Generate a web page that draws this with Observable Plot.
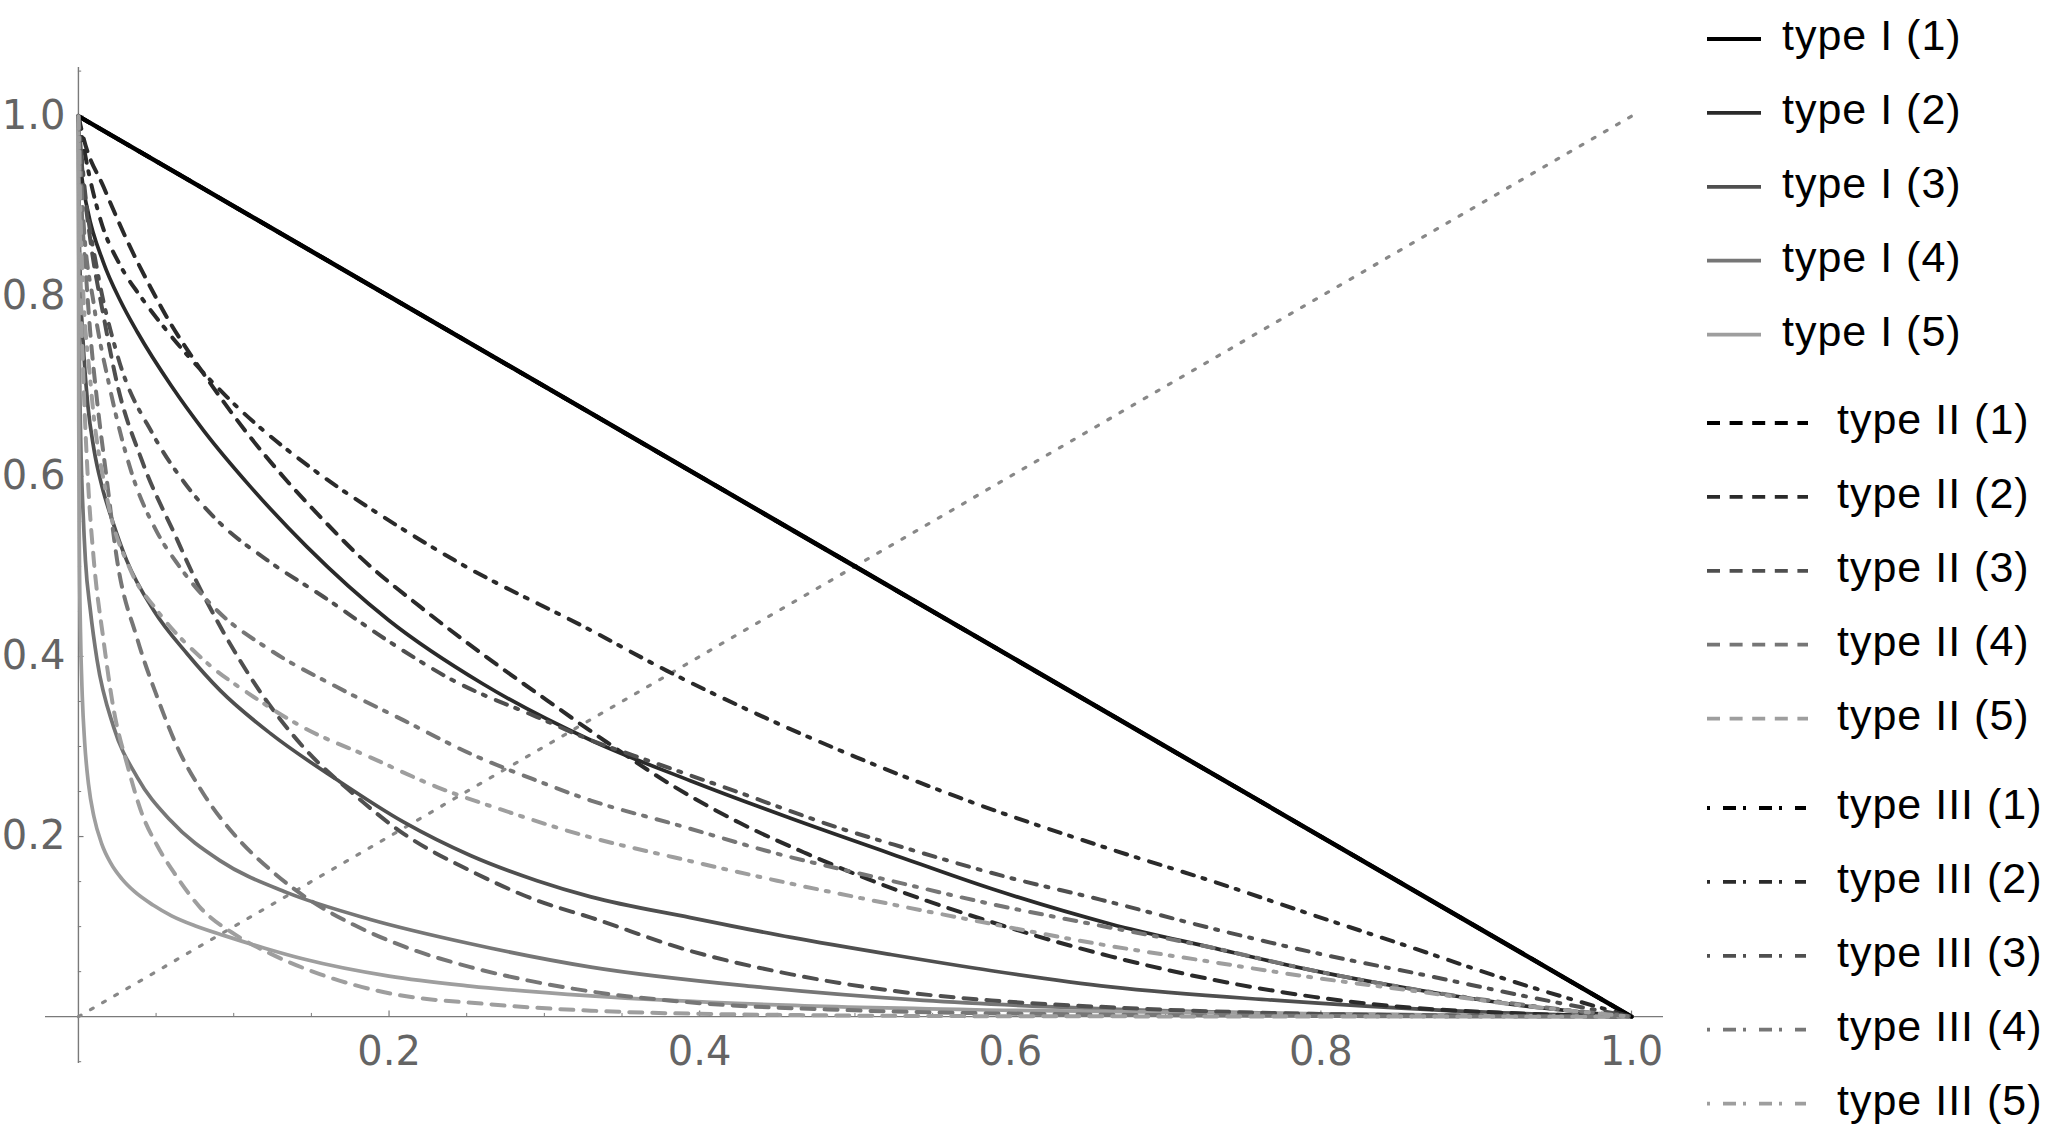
<!DOCTYPE html>
<html><head><meta charset="utf-8">
<script src="https://cdn.jsdelivr.net/npm/d3@7"></script>
<script src="https://cdn.jsdelivr.net/npm/@observablehq/plot@0.6"></script>
<style>
body{margin:0;background:#fff;}
#wrap{position:relative;width:2057px;height:1140px;overflow:hidden;background:#fff;}
#chart{position:absolute;left:0;top:0;}
#legend{position:absolute;left:1680px;top:0;}
</style></head><body>
<div id="wrap"><div id="chart"></div><svg id="legend" width="377" height="1140"></svg></div>
<script>
// ---- data (x, y) ----
const diagonal = [[0,0],[1,1]];
const typeI_1 = [[0,1],[1,0]];
const typeI_2 = [[0,1],[0.0005,0.965],[0.002,0.935],[0.006,0.895],[0.016,0.838],[0.027,0.795],[0.038,0.76],[0.06,0.7],[0.081,0.65],[0.11,0.59],[0.147,0.522],[0.2,0.44],[0.26,0.37],[0.33,0.307],[0.394,0.262],[0.459,0.22],[0.523,0.181],[0.588,0.142],[0.6645,0.103],[0.729,0.077],[0.793,0.052],[0.858,0.031],[0.922,0.014],[1,0]];
const typeI_3 = [[0,1],[0.0003,0.9],[0.001,0.83],[0.003,0.75],[0.006,0.68],[0.01,0.63],[0.015,0.59],[0.022,0.55],[0.031,0.507],[0.0485,0.451],[0.07,0.403],[0.0914,0.362],[0.124,0.314],[0.1665,0.263],[0.2095,0.216],[0.2524,0.179],[0.2953,0.151],[0.33,0.133],[0.394,0.11],[0.459,0.088],[0.523,0.069],[0.588,0.051],[0.6645,0.033],[0.772,0.018],[0.879,0.007],[1,0]];
const typeI_4 = [[0,1],[0.0001,0.9],[0.0005,0.76],[0.0015,0.64],[0.003,0.56],[0.0045,0.507],[0.0077,0.451],[0.012,0.396],[0.0228,0.321],[0.0378,0.266],[0.0592,0.218],[0.0914,0.173],[0.134,0.138],[0.188,0.108],[0.2524,0.081],[0.33,0.055],[0.437,0.033],[0.544,0.018],[0.6645,0.0085],[0.8,0.003],[1,0]];
const typeI_5 = [[0,1],[0.00005,0.85],[0.0002,0.66],[0.0006,0.52],[0.0013,0.43],[0.0025,0.355],[0.004,0.305],[0.0065,0.258],[0.01,0.222],[0.015,0.192],[0.021,0.17],[0.028,0.153],[0.036,0.139],[0.048,0.124],[0.06,0.112],[0.075,0.101],[0.094,0.09],[0.12,0.076],[0.145,0.064],[0.2,0.045],[0.252,0.034],[0.33,0.023],[0.45,0.013],[0.6,0.007],[0.8,0.003],[1,0]];
const typeII_1 = [[0,1],[1,0]];
const typeII_2 = [[0,1],[0.0034,0.975],[0.0163,0.921],[0.0313,0.862],[0.0464,0.81],[0.0592,0.77],[0.0742,0.73],[0.0871,0.698],[0.1086,0.648],[0.1322,0.599],[0.158,0.551],[0.1816,0.51],[0.2202,0.455],[0.263,0.399],[0.306,0.346],[0.34,0.305],[0.383,0.256],[0.426,0.215],[0.469,0.181],[0.508,0.153],[0.544,0.13],[0.588,0.105],[0.63,0.083],[0.6645,0.067],[0.7395,0.038],[0.7954,0.022],[0.851,0.011],[0.922,0.004],[1,0]];
const typeII_3 = [[0,1],[0.003,0.93],[0.0077,0.862],[0.0163,0.777],[0.0249,0.703],[0.041,0.617],[0.0635,0.53],[0.07,0.505],[0.0914,0.433],[0.115,0.366],[0.145,0.299],[0.1773,0.247],[0.2095,0.203],[0.2524,0.162],[0.2953,0.129],[0.33,0.11],[0.394,0.073],[0.459,0.047],[0.523,0.029],[0.588,0.018],[0.6645,0.0104],[0.8,0.003],[1,0]];
const typeII_4 = [[0,1],[0.002,0.9],[0.0045,0.833],[0.0077,0.758],[0.012,0.684],[0.018,0.6],[0.0249,0.507],[0.0378,0.42],[0.0507,0.355],[0.0635,0.3],[0.0807,0.247],[0.102,0.199],[0.1236,0.163],[0.1494,0.129],[0.1773,0.102],[0.2095,0.078],[0.2524,0.055],[0.29,0.04],[0.33,0.028],[0.4,0.015],[0.5,0.007],[0.65,0.0025],[0.8,0.0008],[1,0]];
const typeII_5 = [[0,1],[0.001,0.85],[0.003,0.72],[0.006,0.6],[0.0099,0.507],[0.016,0.42],[0.0228,0.34],[0.0314,0.28],[0.041,0.225],[0.0507,0.19],[0.0635,0.155],[0.078,0.122],[0.102,0.09],[0.1236,0.07],[0.1558,0.047],[0.2,0.026],[0.263,0.014],[0.33,0.0067],[0.45,0.002],[0.6,0.0005],[1,0]];
const typeIII_1 = [[0,1],[1,0]];
const typeIII_2 = [[0,1],[0.004,0.96],[0.0142,0.885],[0.027,0.834],[0.0399,0.8],[0.0549,0.766],[0.0957,0.688],[0.158,0.599],[0.1945,0.557],[0.242,0.507],[0.33,0.429],[0.379,0.384],[0.437,0.336],[0.501,0.288],[0.566,0.244],[0.6645,0.186],[0.729,0.151],[0.793,0.114],[0.858,0.077],[0.922,0.04],[1,0]];
const typeIII_3 = [[0,1],[0.004,0.92],[0.012,0.83],[0.025,0.735],[0.0485,0.645],[0.0678,0.594],[0.09,0.55],[0.1215,0.507],[0.158,0.466],[0.1987,0.418],[0.2417,0.373],[0.295,0.333],[0.33,0.307],[0.3576,0.29],[0.422,0.251],[0.489,0.21],[0.531,0.188],[0.598,0.155],[0.658,0.13],[0.7354,0.0956],[0.7997,0.0696],[0.8684,0.0456],[0.935,0.0215],[1,0]];
const typeIII_4 = [[0,1],[0.003,0.89],[0.01,0.79],[0.02,0.7],[0.035,0.6],[0.05,0.54],[0.065,0.5],[0.0893,0.451],[0.1236,0.407],[0.1665,0.366],[0.2095,0.329],[0.2524,0.292],[0.2953,0.262],[0.33,0.24],[0.3833,0.214],[0.4499,0.181],[0.523,0.151],[0.588,0.125],[0.6582,0.101],[0.729,0.077],[0.793,0.052],[0.858,0.031],[0.922,0.015],[1,0]];
const typeIII_5 = [[0,1],[0.002,0.85],[0.008,0.7],[0.018,0.58],[0.0335,0.496],[0.0507,0.451],[0.0807,0.396],[0.1129,0.355],[0.145,0.321],[0.188,0.288],[0.2309,0.255],[0.2739,0.229],[0.33,0.199],[0.3833,0.177],[0.4499,0.151],[0.523,0.125],[0.588,0.103],[0.6558,0.081],[0.729,0.061],[0.793,0.044],[0.858,0.029],[0.922,0.014],[1,0]];

const typeNames = ["type I", "type II", "type III"];
const levels = [1, 2, 3, 4, 5];
const xMajor = [0.2, 0.4, 0.6, 0.8, 1.0];
const yMajor = [0.2, 0.4, 0.6, 0.8, 1.0];
const xMinor = [0.05,0.1,0.15,0.25,0.3,0.35,0.45,0.5,0.55,0.65,0.7,0.75,0.85,0.9,0.95];
const yMinor = [-0.05,0.05,0.1,0.15,0.25,0.3,0.35,0.45,0.5,0.55,0.65,0.7,0.75,0.85,0.9,0.95,1.05];

// ---- styling ----
const grays = ["#000000", "#2a2a2a", "#4f4f4f", "#767676", "#9e9e9e"];
const dashes = [null, "13,10", "12,9,3,11"];
const legendDashes = [null, "13,9.6", "3,13,13,7"];
const seriesData = [
  [typeI_1, typeI_2, typeI_3, typeI_4, typeI_5],
  [typeII_1, typeII_2, typeII_3, typeII_4, typeII_5],
  [typeIII_1, typeIII_2, typeIII_3, typeIII_4, typeIII_5]
];

const lineMarks = [];
seriesData.forEach((group, t) => {
  group.forEach((data, k) => {
    lineMarks.push(Plot.line(data, {
      x: d => d[0], y: d => d[1],
      stroke: grays[k],
      strokeWidth: (t === 0 && k === 0) ? 4.6 : (t === 0 ? 3.7 : 4),
      strokeDasharray: dashes[t],
      curve: "monotone-x"
    }));
  });
});

const fmt = d3.format(".1f");
const axisColor = "#7a7a7a";
const labelColor = "#646464";

const chart = Plot.plot({
  width: 1680, height: 1140,
  marginLeft: 45, marginRight: 17, marginTop: 67, marginBottom: 77,
  x: {domain: [-0.0212, 1.0206], axis: null},
  y: {domain: [-0.052, 1.054], axis: null},
  style: {background: "#fff"},
  marks: [
    Plot.ruleY([0], {stroke: axisColor, strokeWidth: 1.4}),
    Plot.ruleX([0], {stroke: axisColor, strokeWidth: 1.4}),
    Plot.ruleX(xMajor, {x: d => d, y1: 0, y2: 0.0062, stroke: axisColor, strokeWidth: 1.2}),
    Plot.ruleX(xMinor, {x: d => d, y1: 0, y2: 0.0036, stroke: axisColor, strokeWidth: 1}),
    Plot.ruleY(yMajor, {y: d => d, x1: 0, x2: 0.0036, stroke: axisColor, strokeWidth: 1.2}),
    Plot.ruleY(yMinor, {y: d => d, x1: 0, x2: 0.0021, stroke: axisColor, strokeWidth: 1}),
    Plot.text(xMajor, {x: d => d, y: 0, text: d => fmt(d), dy: 36, fontSize: 40, fontFamily: "DejaVu Sans", fill: labelColor}),
    Plot.text(yMajor, {x: 0, y: d => d, text: d => fmt(d), dx: -13, textAnchor: "end", fontSize: 40, fontFamily: "DejaVu Sans", fill: labelColor}),
    Plot.line(diagonal, {x: d => d[0], y: d => d[1], stroke: "#888", strokeWidth: 3.2, strokeDasharray: "3,11"}),
    ...lineMarks
  ]
});
document.getElementById("chart").appendChild(chart);

// ---- legend ----
const leg = d3.select("#legend");
const groupTop = [39, 423, 808];
const rowStep = 73.9;
const lineEnd = [81, 128, 126];
const textX = [102, 157, 157];
typeNames.forEach((name, t) => {
  levels.forEach((lv, k) => {
    const yy = groupTop[t] + k * rowStep;
    leg.append("line")
      .attr("x1", 27).attr("x2", lineEnd[t])
      .attr("y1", yy).attr("y2", yy)
      .attr("stroke", grays[k]).attr("stroke-width", 3.8)
      .attr("stroke-dasharray", legendDashes[t]);
    leg.append("text")
      .attr("x", textX[t]).attr("y", yy + 11)
      .attr("font-family", "Liberation Sans, Arial, sans-serif")
      .attr("font-size", 43)
      .attr("letter-spacing", "1px")
      .attr("fill", "#000")
      .text(`${name} (${lv})`);
  });
});
</script>
</body></html>
